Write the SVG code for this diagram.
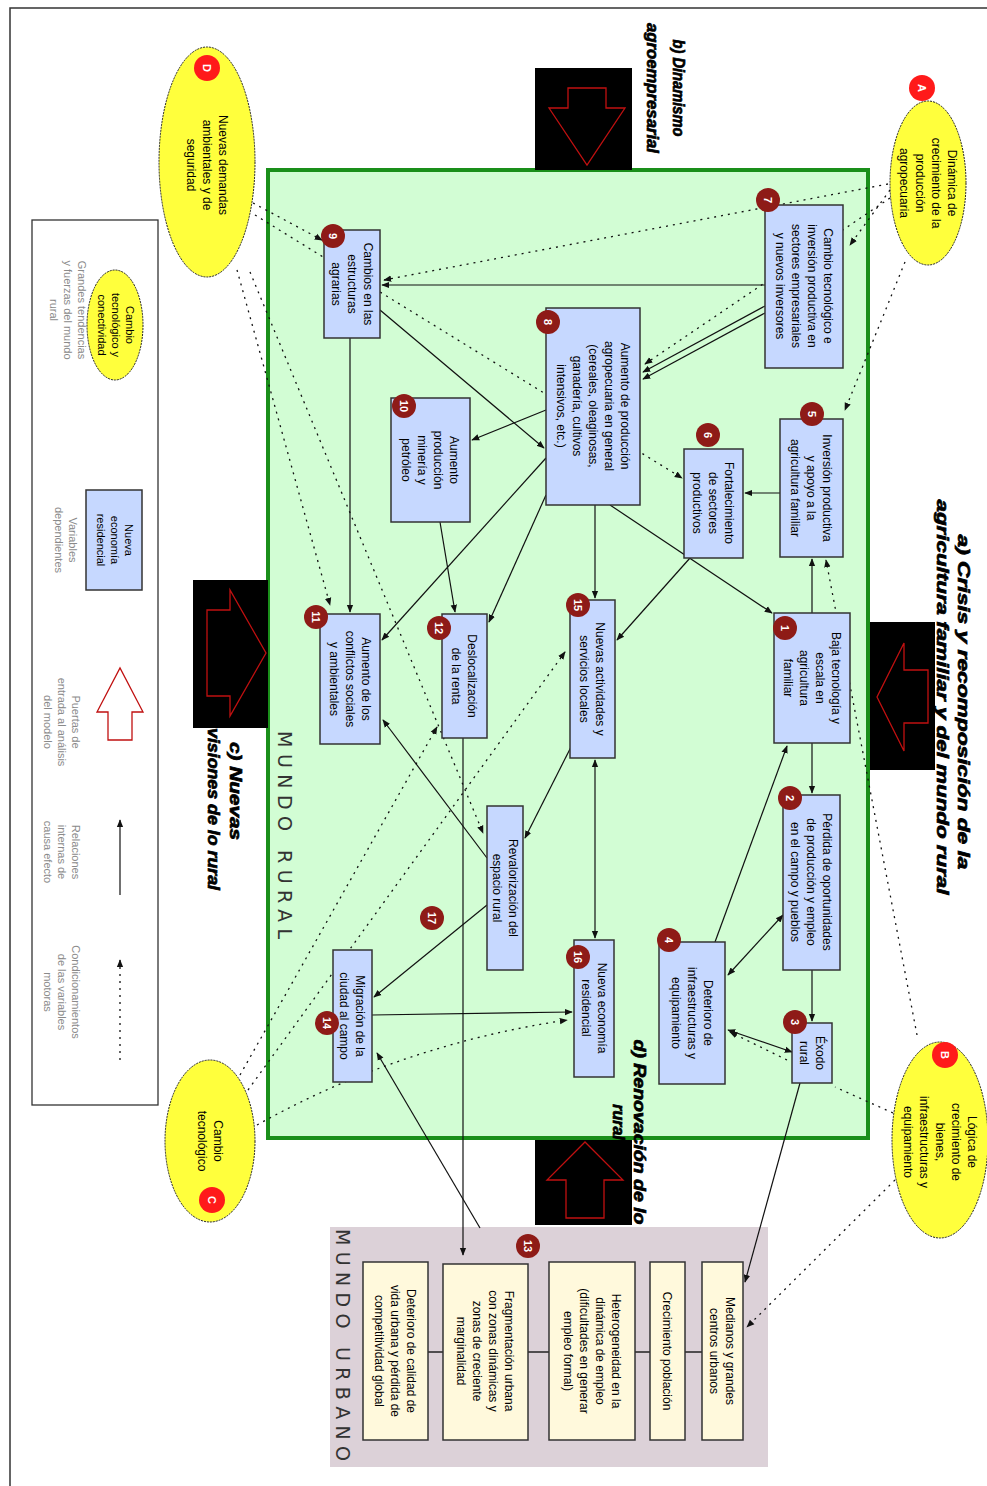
<svg xmlns="http://www.w3.org/2000/svg" width="987" height="1486" viewBox="0 0 987 1486">
<style>
.n{font-family:"Liberation Sans",Arial,sans-serif;font-size:12px;text-anchor:middle;fill:#000}
.lg{font-family:"Liberation Sans",Arial,sans-serif;font-size:11px;text-anchor:middle;fill:#8a8a8a}
.big{font-family:"Liberation Sans",Arial,sans-serif;font-size:16px;font-weight:bold;font-style:italic;text-anchor:middle;fill:#000;stroke:#000;stroke-width:0.7}
.world{font-family:"DejaVu Sans",sans-serif;font-size:19px;text-anchor:middle;fill:#333}
.box{fill:#c6d8ff;stroke:#333;stroke-width:1.5}
.ubox{fill:#fff9dc;stroke:#333;stroke-width:1.5}
.ell{fill:#ffff3c;stroke:#222;stroke-width:1;stroke-dasharray:2,1}
.bn{fill:#8e1b17}
.bl{fill:#ff1a1a}
.bt{font-family:"Liberation Sans",Arial,sans-serif;font-size:11px;font-weight:bold;fill:#fff;text-anchor:middle}
.s{fill:none;stroke:#111;stroke-width:1.2;marker-end:url(#ah)}
.sd{fill:none;stroke:#111;stroke-width:1.2;marker-end:url(#ah);marker-start:url(#as)}
.d{fill:none;stroke:#111;stroke-width:1.3;stroke-dasharray:2,5;marker-end:url(#ah)}
.dn{fill:none;stroke:#111;stroke-width:1.3;stroke-dasharray:2,5}
.gate{fill:#000}
.arw{fill:none;stroke:#c01010;stroke-width:1.3}
</style>
<defs>
<marker id="ah" viewBox="0 0 10 10" refX="9" refY="5" markerWidth="8" markerHeight="8" orient="auto" markerUnits="userSpaceOnUse"><path d="M0,1 L10,5 L0,9 z" fill="#111"/></marker>
<marker id="as" viewBox="0 0 10 10" refX="1" refY="5" markerWidth="8" markerHeight="8" orient="auto" markerUnits="userSpaceOnUse"><path d="M10,1 L0,5 L10,9 z" fill="#111"/></marker>
</defs>
<rect width="987" height="1486" fill="#fff"/>
<path d="M10,1486 L10,8 L987,8" fill="none" stroke="#333" stroke-width="1.5"/>

<!-- Rural world -->
<rect id="mundo-rural" x="268" y="170" width="600" height="968" fill="#d2fdd4" stroke="#1a8f1a" stroke-width="4"/>
<text class="world" transform="translate(278,835) rotate(90)" textLength="208" lengthAdjust="spacing">MUNDO RURAL</text>

<!-- Urban world -->
<rect id="mundo-urbano" x="330" y="1227" width="438" height="240" fill="#dcd1d8"/>
<text class="world" transform="translate(336,1345) rotate(90)" textLength="232" lengthAdjust="spacing">MUNDO URBANO</text>
<path d="M428,1352 L443,1352 M528,1352 L549,1352 M635,1352 L650,1352 M685,1352 L702,1352" stroke="#222" stroke-width="1.5"/>

<!-- Gate labels -->
<text class="big" transform="translate(958,702) rotate(90)" textLength="335" lengthAdjust="spacingAndGlyphs">a) Crisis y recomposición de la</text>
<text class="big" transform="translate(937,697) rotate(90)" textLength="395" lengthAdjust="spacingAndGlyphs">agricultura familiar y del mundo rural</text>
<text class="big" transform="translate(673,88) rotate(90)" textLength="97" lengthAdjust="spacingAndGlyphs">b) Dinamismo</text>
<text class="big" transform="translate(647,88) rotate(90)" textLength="130" lengthAdjust="spacingAndGlyphs">agroempresarial</text>
<text class="big" transform="translate(230,791) rotate(90)" textLength="98" lengthAdjust="spacingAndGlyphs">c) Nuevas</text>
<text class="big" transform="translate(208,809) rotate(90)" textLength="162" lengthAdjust="spacingAndGlyphs">visiones de lo rural</text>
<text class="big" transform="translate(634,1132) rotate(90)" textLength="185" lengthAdjust="spacingAndGlyphs">d) Renovación de lo</text>
<text class="big" transform="translate(613,1122) rotate(90)">rural</text>

<!-- Gates -->
<g id="gate-b">
<rect class="gate" x="535" y="68" width="97" height="102"/>
<path class="arw" d="M568,88 L606,88 L606,108 L625,108 L587,165 L549,108 L568,108 Z"/>
</g>
<g id="gate-a">
<rect class="gate" x="870" y="622" width="65" height="148"/>
<path class="arw" d="M928,670 L904,670 L904,643 L877,697 L904,751 L904,723 L928,723 Z"/>
</g>
<g id="gate-c">
<rect class="gate" x="193" y="580" width="75" height="148"/>
<path class="arw" d="M207,610 L230,610 L230,590 L266,653 L230,716 L230,696 L207,696 Z"/>
</g>
<g id="gate-d">
<rect class="gate" x="535" y="1140" width="97" height="85"/>
<path class="arw" d="M566,1218 L604,1218 L604,1180 L623,1180 L585,1142 L547,1180 L566,1180 Z"/>
</g>

<!-- Connectors -->
<g id="connectors">
<path class="s" d="M765,285 L382,285"/>
<path class="s" d="M765,306 L643,372"/>
<path class="s" d="M765,313 L643,379"/>
<path class="s" d="M780,493 L745,493"/>
<path class="s" d="M812,613 L812,559"/>
<path class="s" d="M812,743 L812,793"/>
<path class="s" d="M812,970 L812,1021"/>
<path class="sd" d="M783,915 L728,975"/>
<path class="sd" d="M792,1052 L728,1030"/>
<path class="s" d="M715,942 L787,746"/>
<path class="s" d="M610,505 L772,613"/>
<path class="s" d="M595,505 L595,598"/>
<path class="s" d="M546,410 L472,440"/>
<path class="s" d="M546,458 L382,640"/>
<path class="s" d="M546,495 L489,622"/>
<path class="s" d="M440,522 L455,612"/>
<path class="s" d="M350,338 L350,612"/>
<path class="s" d="M380,310 L544,448"/>
<path class="s" d="M690,558 L617,640"/>
<path class="s" d="M572,745 L525,838"/>
<path class="s" d="M487,858 L383,720"/>
<path class="s" d="M487,905 L374,997"/>
<path class="s" d="M372,1015 L572,1012"/>
<path class="sd" d="M595,760 L595,938"/>
<path class="s" d="M463,738 L463,1255"/>
<path class="s" d="M480,1228 L377,1053"/>
<path class="s" d="M800,1083 L745,1282"/>
<path class="d" d="M890,190 L850,245"/>
<path class="d" d="M888,184 L384,280"/>
<path class="d" d="M905,262 L845,410"/>
<path class="d" d="M890,198 L645,364"/>
<path class="d" d="M253,203 L322,240"/>
<path class="d" d="M255,215 L682,478"/>
<path class="d" d="M237,270 L330,605"/>
<path class="d" d="M250,272 L483,833"/>
<path class="d" d="M240,1075 L437,727"/>
<path class="d" d="M248,1090 L565,652"/>
<path class="d" d="M257,1125 Q400,1045 567,1020"/>
<path class="d" d="M895,1180 L747,1327"/>
<path class="dn" d="M893,1113 L835,1087"/>
<path class="d" d="M917,1035 L826,560"/>
<path class="d" d="M787,1060 L730,1032"/>
</g>

<!-- Ellipses -->
<g id="A"><ellipse class="ell" cx="928" cy="183" rx="38" ry="82"/>
<text class="n" transform="translate(928,183) rotate(90)"><tspan x="0" y="-19.8">Dinámica de</tspan><tspan x="0" dy="16">crecimiento de la</tspan><tspan x="0" dy="16">producción</tspan><tspan x="0" dy="16">agropecuaria</tspan></text>
<circle class="bl" cx="922" cy="88" r="13"/><text class="bt" transform="translate(922,88) rotate(90)" y="4">A</text></g>
<g id="B"><ellipse class="ell" cx="940" cy="1140" rx="48" ry="98"/>
<text class="n" transform="translate(940,1142) rotate(90)"><tspan x="0" y="-27.8">Lógica de</tspan><tspan x="0" dy="16">crecimiento de</tspan><tspan x="0" dy="16">bienes,</tspan><tspan x="0" dy="16">infraestructuras y</tspan><tspan x="0" dy="16">equipamiento</tspan></text>
<circle class="bl" cx="945" cy="1055" r="13"/><text class="bt" transform="translate(945,1055) rotate(90)" y="4">B</text></g>
<g id="C"><ellipse class="ell" cx="210" cy="1141" rx="45" ry="81"/>
<text class="n" transform="translate(210,1141) rotate(90)"><tspan x="0" y="-3.8">Cambio</tspan><tspan x="0" dy="16">tecnológico</tspan></text>
<circle class="bl" cx="212" cy="1200" r="13"/><text class="bt" transform="translate(212,1200) rotate(90)" y="4">C</text></g>
<g id="D"><ellipse class="ell" cx="207" cy="162" rx="48" ry="115"/>
<text class="n" transform="translate(207,165) rotate(90)"><tspan x="0" y="-11.8">Nuevas demandas</tspan><tspan x="0" dy="16">ambientales y de</tspan><tspan x="0" dy="16">seguridad</tspan></text>
<circle class="bl" cx="207" cy="68" r="13"/><text class="bt" transform="translate(207,68) rotate(90)" y="4">D</text></g>

<!-- Nodes -->
<g id="n7"><rect class="box" x="765" y="205" width="78" height="163"/>
<text class="n" transform="translate(804,286) rotate(90)"><tspan x="0" y="-19.8">Cambio tecnológico e</tspan><tspan x="0" dy="16">inversión productiva en</tspan><tspan x="0" dy="16">sectores empresariales</tspan><tspan x="0" dy="16">y nuevos inversores</tspan></text>
<circle class="bn" cx="768" cy="200" r="12"/><text class="bt" transform="translate(768,200) rotate(90)" y="4">7</text></g>
<g id="n8"><rect class="box" x="546" y="308" width="94" height="197"/>
<text class="n" transform="translate(593,406) rotate(90)"><tspan x="0" y="-27.8">Aumento de producción</tspan><tspan x="0" dy="16">agropecuaria en general</tspan><tspan x="0" dy="16">(cereales, oleaginosas,</tspan><tspan x="0" dy="16">ganadería, cultivos</tspan><tspan x="0" dy="16">intensivos, etc.)</tspan></text>
<circle class="bn" cx="548" cy="322" r="12"/><text class="bt" transform="translate(548,322) rotate(90)" y="4">8</text></g>
<g id="n5"><rect class="box" x="780" y="419" width="63" height="138"/>
<text class="n" transform="translate(811,488) rotate(90)"><tspan x="0" y="-11.8">Inversión productiva</tspan><tspan x="0" dy="16">y apoyo a la</tspan><tspan x="0" dy="16">agricultura familiar</tspan></text>
<circle class="bn" cx="812" cy="414" r="12"/><text class="bt" transform="translate(812,414) rotate(90)" y="4">5</text></g>
<g id="n6"><rect class="box" x="684" y="449" width="59" height="109"/>
<text class="n" transform="translate(713,503) rotate(90)"><tspan x="0" y="-11.8">Fortalecimiento</tspan><tspan x="0" dy="16">de sectores</tspan><tspan x="0" dy="16">productivos</tspan></text>
<circle class="bn" cx="708" cy="435" r="12"/><text class="bt" transform="translate(708,435) rotate(90)" y="4">6</text></g>
<g id="n1"><rect class="box" x="774" y="613" width="76" height="130"/>
<text class="n" transform="translate(812,678) rotate(90)"><tspan x="0" y="-19.8">Baja tecnología y</tspan><tspan x="0" dy="16">escala en</tspan><tspan x="0" dy="16">agricultura</tspan><tspan x="0" dy="16">familiar</tspan></text>
<circle class="bn" cx="785" cy="628" r="12"/><text class="bt" transform="translate(785,628) rotate(90)" y="4">1</text></g>
<g id="n2"><rect class="box" x="783" y="795" width="57" height="175"/>
<text class="n" transform="translate(811,882) rotate(90)"><tspan x="0" y="-11.8">Pérdida de oportunidades</tspan><tspan x="0" dy="16">de producción y empleo</tspan><tspan x="0" dy="16">en el campo y pueblos</tspan></text>
<circle class="bn" cx="790" cy="798" r="12"/><text class="bt" transform="translate(790,798) rotate(90)" y="4">2</text></g>
<g id="n3"><rect class="box" x="792" y="1023" width="40" height="60"/>
<text class="n" transform="translate(812,1053) rotate(90)"><tspan x="0" y="-3.8">Éxodo</tspan><tspan x="0" dy="16">rural</tspan></text>
<circle class="bn" cx="795" cy="1022" r="12"/><text class="bt" transform="translate(795,1022) rotate(90)" y="4">3</text></g>
<g id="n4"><rect class="box" x="659" y="942" width="66" height="142"/>
<text class="n" transform="translate(692,1013) rotate(90)"><tspan x="0" y="-11.8">Deterioro de</tspan><tspan x="0" dy="16">infraestructuras y</tspan><tspan x="0" dy="16">equipamiento</tspan></text>
<circle class="bn" cx="669" cy="940" r="12"/><text class="bt" transform="translate(669,940) rotate(90)" y="4">4</text></g>
<g id="n9"><rect class="box" x="324" y="230" width="56" height="108"/>
<text class="n" transform="translate(352,284) rotate(90)"><tspan x="0" y="-11.8">Cambios en las</tspan><tspan x="0" dy="16">estructuras</tspan><tspan x="0" dy="16">agrarias</tspan></text>
<circle class="bn" cx="333" cy="236" r="12"/><text class="bt" transform="translate(333,236) rotate(90)" y="4">9</text></g>
<g id="n10"><rect class="box" x="391" y="398" width="79" height="124"/>
<text class="n" transform="translate(430,460) rotate(90)"><tspan x="0" y="-19.8">Aumento</tspan><tspan x="0" dy="16">producción</tspan><tspan x="0" dy="16">minería y</tspan><tspan x="0" dy="16">petróleo</tspan></text>
<circle class="bn" cx="404" cy="406" r="12"/><text class="bt" transform="translate(404,406) rotate(90)" y="4">10</text></g>
<g id="n11"><rect class="box" x="320" y="614" width="60" height="130"/>
<text class="n" transform="translate(350,679) rotate(90)"><tspan x="0" y="-11.8">Aumento de los</tspan><tspan x="0" dy="16">conflictos sociales</tspan><tspan x="0" dy="16">y ambientales</tspan></text>
<circle class="bn" cx="316" cy="617" r="12"/><text class="bt" transform="translate(316,617) rotate(90)" y="4">11</text></g>
<g id="n12"><rect class="box" x="442" y="614" width="45" height="124"/>
<text class="n" transform="translate(464,676) rotate(90)"><tspan x="0" y="-3.8">Deslocalización</tspan><tspan x="0" dy="16">de la renta</tspan></text>
<circle class="bn" cx="439" cy="628" r="12"/><text class="bt" transform="translate(439,628) rotate(90)" y="4">12</text></g>
<g id="n15"><rect class="box" x="570" y="600" width="45" height="158"/>
<text class="n" transform="translate(592,679) rotate(90)"><tspan x="0" y="-3.8">Nuevas actividades y</tspan><tspan x="0" dy="16">servicios locales</tspan></text>
<circle class="bn" cx="578" cy="605" r="12"/><text class="bt" transform="translate(578,605) rotate(90)" y="4">15</text></g>
<g id="n18"><rect class="box" x="487" y="806" width="36" height="164"/>
<text class="n" transform="translate(505,888) rotate(90)"><tspan x="0" y="-3.8">Revalorización del</tspan><tspan x="0" dy="16">espacio rural</tspan></text></g>
<g id="b17"><circle class="bn" cx="432" cy="918" r="12"/><text class="bt" transform="translate(432,918) rotate(90)" y="4">17</text></g>
<g id="n16"><rect class="box" x="574" y="940" width="40" height="137"/>
<text class="n" transform="translate(594,1008) rotate(90)"><tspan x="0" y="-3.8">Nueva economía</tspan><tspan x="0" dy="16">residencial</tspan></text>
<circle class="bn" cx="578" cy="957" r="12"/><text class="bt" transform="translate(578,957) rotate(90)" y="4">16</text></g>
<g id="n14"><rect class="box" x="333" y="950" width="39" height="132"/>
<text class="n" transform="translate(352,1016) rotate(90)"><tspan x="0" y="-3.8">Migración de la</tspan><tspan x="0" dy="16">ciudad al campo</tspan></text>
<circle class="bn" cx="327" cy="1023" r="12"/><text class="bt" transform="translate(327,1023) rotate(90)" y="4">14</text></g>

<!-- Urban nodes -->
<g id="u1"><rect class="ubox" x="702" y="1262" width="41" height="178"/>
<text class="n" transform="translate(722,1351) rotate(90)"><tspan x="0" y="-3.8">Medianos y grandes</tspan><tspan x="0" dy="16">centros urbanos</tspan></text></g>
<g id="u2"><rect class="ubox" x="650" y="1262" width="35" height="178"/>
<text class="n" transform="translate(667,1351) rotate(90)"><tspan x="0" y="4.2">Crecimiento población</tspan></text></g>
<g id="u3"><rect class="ubox" x="549" y="1262" width="86" height="178"/>
<text class="n" transform="translate(592,1351) rotate(90)"><tspan x="0" y="-19.8">Heterogeneidad en la</tspan><tspan x="0" dy="16">dinámica de empleo</tspan><tspan x="0" dy="16">(dificultades en generar</tspan><tspan x="0" dy="16">empleo formal)</tspan></text></g>
<g id="u13"><rect class="ubox" x="443" y="1264" width="85" height="176"/>
<text class="n" transform="translate(485,1351) rotate(90)"><tspan x="0" y="-19.8">Fragmentación urbana</tspan><tspan x="0" dy="16">con zonas dinámicas y</tspan><tspan x="0" dy="16">zonas de creciente</tspan><tspan x="0" dy="16">marginalidad</tspan></text>
<circle class="bn" cx="528" cy="1246" r="12"/><text class="bt" transform="translate(528,1246) rotate(90)" y="4">13</text></g>
<g id="u5"><rect class="ubox" x="363" y="1262" width="65" height="178"/>
<text class="n" transform="translate(395,1351) rotate(90)"><tspan x="0" y="-11.8">Deterioro de calidad de</tspan><tspan x="0" dy="16">vida urbana y pérdida de</tspan><tspan x="0" dy="16">competitividad global</tspan></text></g>

<!-- Legend -->
<g id="legend">
<rect x="32" y="220" width="126" height="885" fill="#fff" stroke="#333" stroke-width="1.3"/>
<ellipse class="ell" cx="115" cy="325" rx="28" ry="55"/>
<text class="n" style="font-size:11px" transform="translate(115,325) rotate(90)"><tspan x="0" y="-10.5">Cambio</tspan><tspan x="0" dy="14">tecnológico y</tspan><tspan x="0" dy="14">conectividad</tspan></text>
<text class="lg" transform="translate(68,310) rotate(90)"><tspan x="0" y="-10">Grandes tendencias</tspan><tspan x="0" dy="14">y fuerzas del mundo</tspan><tspan x="0" dy="14">rural</tspan></text>
<rect class="box" x="86" y="490" width="56" height="100"/>
<text class="n" style="font-size:11px" transform="translate(114,540) rotate(90)"><tspan x="0" y="-10.5">Nueva</tspan><tspan x="0" dy="14">economía</tspan><tspan x="0" dy="14">residencial</tspan></text>
<text class="lg" transform="translate(66,540) rotate(90)"><tspan x="0" y="-3">Variables</tspan><tspan x="0" dy="14">dependientes</tspan></text>
<path d="M108,740 L132,740 L132,712 L143,712 L120,668 L97,712 L108,712 Z" fill="#fff" stroke="#c01010" stroke-width="1.3"/>
<text class="lg" transform="translate(62,722) rotate(90)"><tspan x="0" y="-10">Puertas de</tspan><tspan x="0" dy="14">entrada al análisis</tspan><tspan x="0" dy="14">del modelo</tspan></text>
<path class="s" d="M120,895 L120,820"/>
<text class="lg" transform="translate(62,852) rotate(90)"><tspan x="0" y="-10">Relaciones</tspan><tspan x="0" dy="14">internas de</tspan><tspan x="0" dy="14">causa efecto</tspan></text>
<path class="d" d="M120,1060 L120,960"/>
<text class="lg" transform="translate(62,992) rotate(90)"><tspan x="0" y="-10">Condicionamientos</tspan><tspan x="0" dy="14">de las variables</tspan><tspan x="0" dy="14">motoras</tspan></text>
</g>
</svg>
